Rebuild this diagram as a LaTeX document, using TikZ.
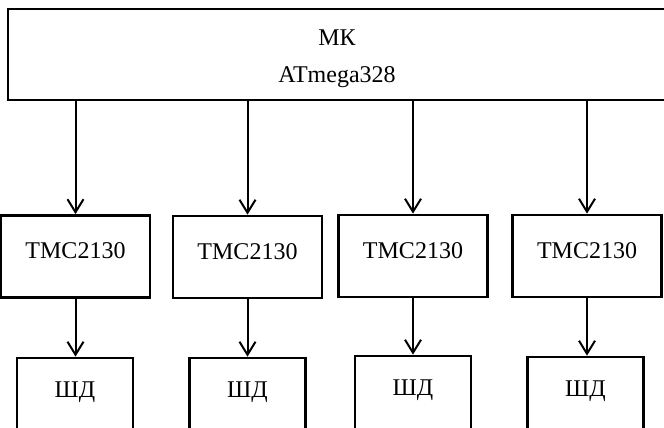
\documentclass[tikz,border=0pt]{standalone}
\usepackage{fontspec}
\setmainfont{Liberation Serif}
\usepackage{tikz}
\usetikzlibrary{arrows.meta,calc}

\begin{document}
\begin{tikzpicture}[x=0.5pt,y=-0.5pt,
    blk/.style={draw,line width=1.35pt,inner sep=0pt,
                font=\fontsize{12}{18.5}\selectfont},
    drv/.style={blk,minimum width=74.5pt,minimum height=41pt,
                text height=8pt,text depth=6pt},
    mot/.style={blk,minimum width=58pt,minimum height=44pt,
                text height=8pt,text depth=13pt},
    link/.style={->,line width=1pt},
    >={Straight Barb[length=6.5pt,width=8pt]}]

  \useasboundingbox (0,0) rectangle (664,428);
%
  \node [blk,minimum width=329pt,minimum height=45.5pt,align=center]
        (mk) at (337,54.5) {\rule{0pt}{12pt}МК\\ATmega328} ;
%
  \node [drv] (tmca) at (75.5,256.5) {TMC2130} ;
  \node [drv] (tmcb) at (247.5,257)  {TMC2130} ;
  \node [drv] (tmcc) at (413,256)    {TMC2130} ;
  \node [drv] (tmcd) at (587,256)    {TMC2130} ;
%
  \node [mot] (shda) at (75,402)    {ШД} ;
  \node [mot] (shdb) at (247.5,402) {ШД} ;
  \node [mot] (shdc) at (413,400)   {ШД} ;
  \node [mot] (shdd) at (585.5,401) {ШД} ;
%
  \draw [link] (mk.south -| tmca.north) -- (tmca.north) ;
  \draw [link] (mk.south -| tmcb.north) -- (tmcb.north) ;
  \draw [link] (mk.south -| tmcc.north) -- (tmcc.north) ;
  \draw [link] (mk.south -| tmcd.north) -- (tmcd.north) ;
%
  \draw [link] (tmca.south) -- (tmca.south |- shda.north) ;
  \draw [link] (tmcb.south) -- (tmcb.south |- shdb.north) ;
  \draw [link] (tmcc.south) -- (tmcc.south |- shdc.north) ;
  \draw [link] (tmcd.south) -- (tmcd.south |- shdd.north) ;

\end{tikzpicture}
\end{document}
